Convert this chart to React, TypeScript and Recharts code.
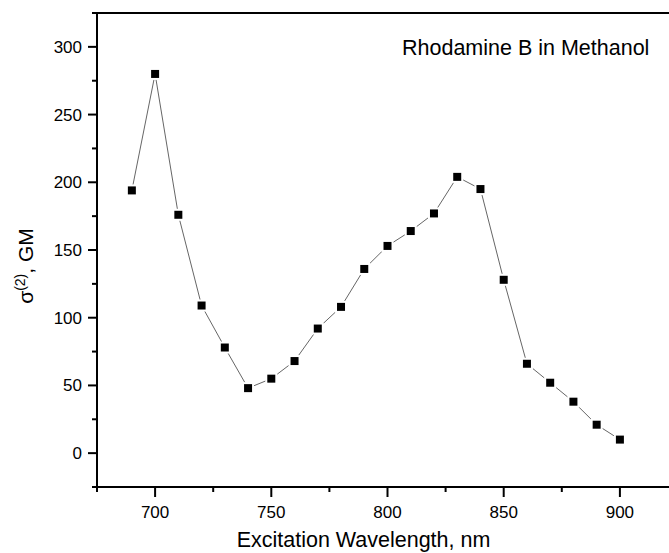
import React from 'react';
import { LineChart, Line, XAxis, YAxis, ReferenceLine, Label } from 'recharts';

const wavelengths = [690, 700, 710, 720, 730, 740, 750, 760, 770, 780, 790, 800, 810, 820, 830, 840, 850, 860, 870, 880, 890, 900];
const crossSection = [194, 280, 176, 109, 78, 48, 55, 68, 92, 108, 136, 153, 164, 177, 204, 195, 128, 66, 52, 38, 21, 10];
const xTicks = [675, 700, 725, 750, 775, 800, 825, 850, 875, 900, 925];
const yTicks = [-25, 0, 25, 50, 75, 100, 125, 150, 175, 200, 225, 250, 275, 300, 325];
const xLabeled = [700, 750, 800, 850, 900];
const yLabeled = [0, 50, 100, 150, 200, 250, 300];

const titleText = 'Rhodamine B in Methanol';
const xTitle = 'Excitation Wavelength, nm';

const data = wavelengths.map((w, i) => ({ w, s: crossSection[i] }));

const FONT = '"Liberation Sans", Arial, sans-serif';

const XTick = (props: any) => {
  const { x, y, payload } = props;
  const major = xLabeled.includes(payload.value);
  return (
    <g>
      <line x1={x} x2={x} y1={y} y2={y + (major ? 10 : 5)} stroke="#000" strokeWidth={2} />
      {major && (
        <text x={x} y={y + 31} textAnchor="middle" fontSize={17} fill="#000" fontFamily={FONT}>
          {payload.value}
        </text>
      )}
    </g>
  );
};

const YTick = (props: any) => {
  const { x, y, payload } = props;
  const major = yLabeled.includes(payload.value);
  return (
    <g>
      <line x1={x} x2={x - (major ? 9 : 5)} y1={y} y2={y} stroke="#000" strokeWidth={2} />
      {major && (
        <text x={x - 15} y={y + 6} textAnchor="end" fontSize={17} fill="#000" fontFamily={FONT}>
          {payload.value}
        </text>
      )}
    </g>
  );
};

const SquareDot = (props: any) => {
  const { cx, cy, index } = props;
  if (cx == null || cy == null) return <g key={index} />;
  return <rect key={index} x={cx - 5} y={cy - 5} width={10} height={10} fill="#000" stroke="#fff" strokeWidth={2} />;
};

const Texts = () => (
  <g fontFamily={FONT} fill="#000">
    <text x={402} y={55} fontSize={21.5} fill="#000">{titleText}</text>
    <text x={363.5} y={547} textAnchor="middle" fontSize={21.5} fill="#000">{xTitle}</text>
    <text x={33} y={266} transform="rotate(-90, 33, 266)" textAnchor="middle" fontSize={21} fill="#000">
      σ<tspan dy={-8} fontSize={14}>(2)</tspan><tspan dy={8} fontSize={21}>, GM</tspan>
    </text>
  </g>
);

export default function App() {
  return (
    <div style={{ position: 'absolute', left: 0, top: 0, width: 669, height: 553, overflow: 'hidden', background: '#fff' }}>
      <LineChart width={700} height={553} data={data} margin={{ top: 13, right: 22, bottom: 0, left: 0 }}>
        <XAxis
          dataKey="w"
          type="number"
          domain={[675, 925]}
          ticks={xTicks}
          interval={0}
          allowDataOverflow
          height={66}
          tickSize={0}
          tickMargin={0}
          tickLine={false}
          axisLine={{ stroke: '#000', strokeWidth: 2 }}
          tick={<XTick />}
        >
          <Label content={() => <Texts />} />
        </XAxis>
        <YAxis
          type="number"
          domain={[-25, 325]}
          ticks={yTicks}
          interval={0}
          allowDataOverflow
          width={97}
          tickSize={0}
          tickMargin={0}
          tickLine={false}
          axisLine={{ stroke: '#000', strokeWidth: 2 }}
          tick={<YTick />}
        />
        <ReferenceLine y={325} stroke="#000" strokeWidth={2} />
        <Line
          dataKey="s"
          stroke="#666"
          strokeWidth={1}
          dot={<SquareDot />}
          activeDot={false}
          isAnimationActive={false}
        />
      </LineChart>
    </div>
  );
}
